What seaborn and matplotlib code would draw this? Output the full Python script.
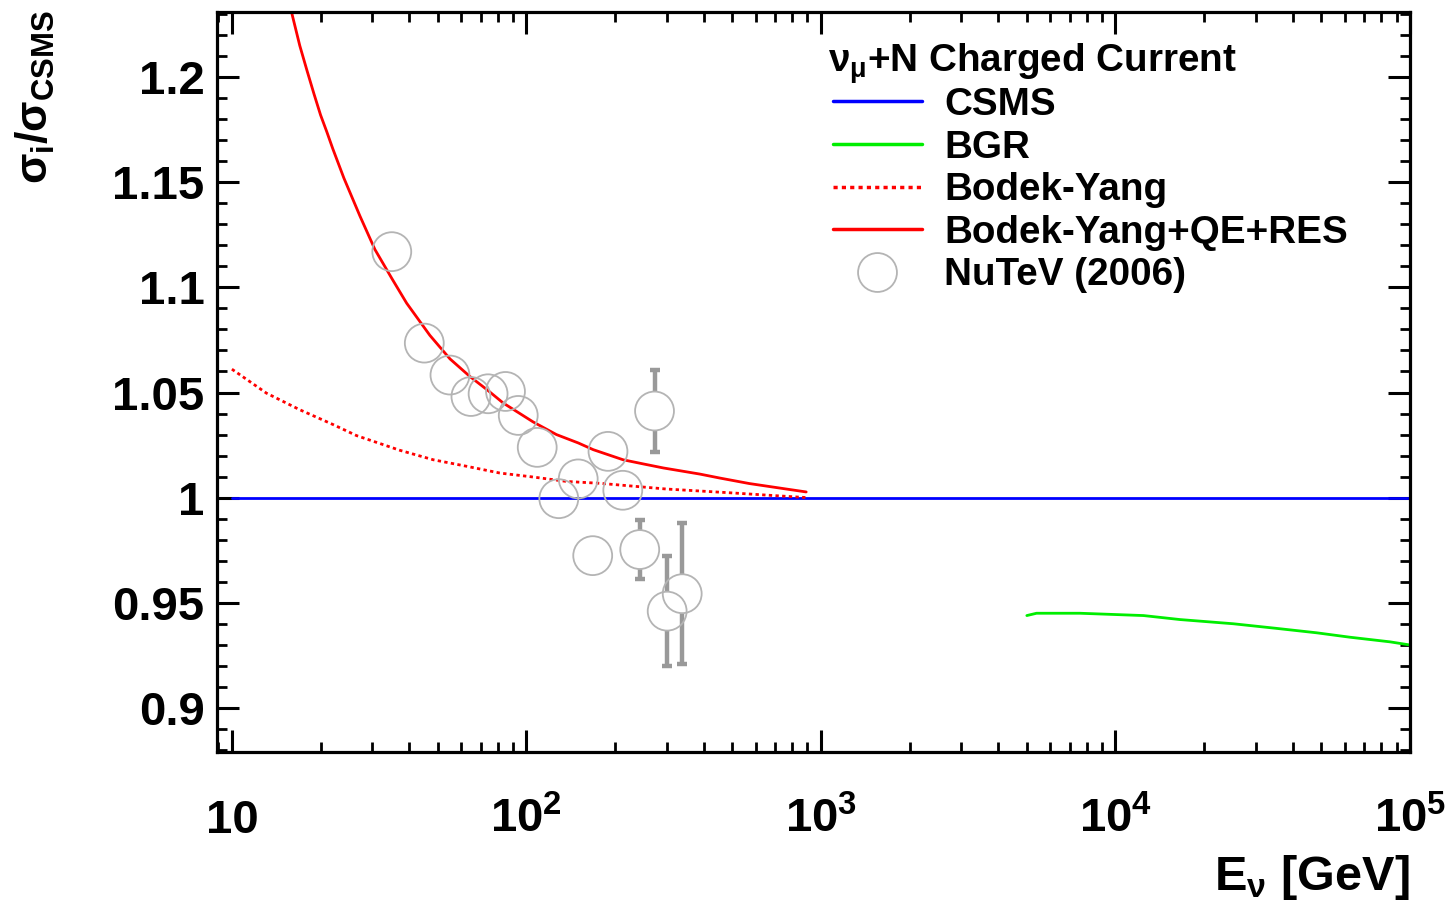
import numpy as np
import pandas as pd
import matplotlib
matplotlib.use("Agg")
import matplotlib.pyplot as plt
import seaborn as sns
from matplotlib.lines import Line2D
from matplotlib.ticker import FixedLocator, LogLocator, MultipleLocator, FixedFormatter, NullFormatter

# ---------------- data ----------------
csms_E = [10, 1e5]
csms_ratio = [1.0, 1.0]

bgr_E = [5000, 5395, 7573, 12450, 16560, 25120, 35250, 48200, 62500, 85500, 100000]
bgr_ratio = [0.9439, 0.9450, 0.9450, 0.9439, 0.9420, 0.9400, 0.9378, 0.9357, 0.9336, 0.9314, 0.9299]

by_E = [10, 13.1, 17.0, 22.1, 26.5, 37.2, 48.3, 62.7, 81.2, 105.4, 136.9, 178, 298, 505, 688, 900]
by_ratio = [1.0611, 1.0497, 1.0418, 1.0347, 1.0295, 1.0225, 1.018, 1.0149, 1.0117, 1.0098,
            1.0077, 1.0068, 1.0041, 1.0022, 1.0010, 1.0]

byqe_E = [16.0, 17, 18, 19, 20, 21, 22, 24, 27.2, 30.6, 35, 39.2, 47, 55, 64.3, 74, 83.4, 95,
          105.4, 126.4, 150, 168.7, 213, 250, 292, 388, 454, 571, 762, 891]
byqe_ratio = [1.230, 1.215, 1.203, 1.192, 1.182, 1.174, 1.166, 1.152, 1.134, 1.118, 1.104,
              1.0925, 1.0772, 1.066, 1.0576, 1.051, 1.045, 1.040, 1.036, 1.030, 1.026, 1.0228,
              1.018, 1.016, 1.0141, 1.0112, 1.0093, 1.0067, 1.0041, 1.0027]

nutev_E = [34.9, 45.0, 55.0, 64.8, 74.1, 84.9, 93.8, 108.8, 128.8, 149.9, 167.9, 189.2,
           212.4, 242.5, 272.2, 300.5, 338.0]
nutev_ratio = [1.117, 1.0735, 1.0583, 1.0481, 1.0494, 1.0505, 1.0391, 1.0239, 0.9995, 1.0089,
               0.9724, 1.022, 1.0035, 0.9753, 1.0412, 0.946, 0.9543]
nutev_err = [0.006, 0.006, 0.006, 0.006, 0.006, 0.006, 0.006, 0.006, 0.007, 0.007,
             0.008, 0.008, 0.008, 0.014, 0.0196, 0.026, 0.0335]

xtick_vals = [10, 100, 1000, 10000, 100000]
xtick_labels = ["10", r"$10^{2}$", r"$10^{3}$", r"$10^{4}$", r"$10^{5}$"]
ytick_vals = [0.9, 0.95, 1.0, 1.05, 1.1, 1.15, 1.2]
ytick_labels = ["0.9", "0.95", "1", "1.05", "1.1", "1.15", "1.2"]

legend_title = r"$\nu_{\mu}$+N Charged Current"
series_labels = ["CSMS", "BGR", "Bodek-Yang", "Bodek-Yang+QE+RES", "NuTeV (2006)"]

# ---------------- style ----------------
sns.set_theme(style="white")
plt.rcParams["font.family"] = ["Liberation Sans", "DejaVu Sans"]
plt.rcParams["font.weight"] = "bold"
plt.rcParams["text.color"] = "black"
plt.rcParams["axes.labelcolor"] = "black"
plt.rcParams["xtick.color"] = "black"
plt.rcParams["ytick.color"] = "black"
plt.rcParams["mathtext.fontset"] = "custom"
plt.rcParams["mathtext.rm"] = "Liberation Sans:bold"
plt.rcParams["mathtext.it"] = "Liberation Sans:bold"
plt.rcParams["mathtext.bf"] = "Liberation Sans:bold"
plt.rcParams["mathtext.sf"] = "Liberation Sans:bold"

DPI = 100
fig = plt.figure(figsize=(14.45, 9.0), dpi=DPI)
ax = fig.add_axes([217 / 1445, 1 - 752 / 900, (1410 - 217) / 1445, (752 - 12) / 900])
ax.set_facecolor("white")

ax.set_xscale("log")
ax.set_xlim(8.9, 1e5)
ax.set_ylim(0.879, 1.231)

# lines
sns.lineplot(x=csms_E, y=csms_ratio, ax=ax, color="#0000ff", lw=2.0, sort=False, estimator=None)
sns.lineplot(x=bgr_E, y=bgr_ratio, ax=ax, color="#00ee00", lw=2.0, sort=False, estimator=None)
sns.lineplot(x=by_E, y=by_ratio, ax=ax, color="#ff0000", lw=2.0, sort=False, estimator=None,
             linestyle=(0, (1.2, 1.2)))
sns.lineplot(x=byqe_E, y=byqe_ratio, ax=ax, color="#ff0000", lw=2.0, sort=False, estimator=None)

# NuTeV points: hollow circles
marker_pt = 28.0
sns.scatterplot(x=nutev_E, y=nutev_ratio, ax=ax, marker="o", s=marker_pt ** 2,
                facecolors="none", edgecolor="#b4b4b4", linewidth=1.3, zorder=4)

# error bars drawn outside the marker (gap = marker radius in data units)
fig.canvas.draw()
r_px = marker_pt / 2 * DPI / 72
err_color = "#999999"
for e, v, err in zip(nutev_E, nutev_ratio, nutev_err):
    px = ax.transData.transform((e, v))
    v_top_gap = ax.transData.inverted().transform((px[0], px[1] + r_px))[1]
    gap = v_top_gap - v
    if err > gap:
        ax.vlines([e, e], [v + gap, v - err], [v + err, v - gap], color=err_color, lw=3.2, zorder=3)
        ax.plot([e, e], [v + err, v - err], ls="none", marker="_", ms=7, mew=3.2,
                color=err_color, zorder=3)

# ---------------- axes styling ----------------
for s in ax.spines.values():
    s.set_visible(True)
    s.set_color("black")
    s.set_linewidth(2.3)

ax.xaxis.set_major_locator(FixedLocator(xtick_vals))
ax.xaxis.set_major_formatter(FixedFormatter(xtick_labels))
ax.xaxis.set_minor_locator(LogLocator(base=10, subs=np.arange(2, 10)))
ax.xaxis.set_minor_formatter(NullFormatter())
ax.yaxis.set_major_locator(FixedLocator(ytick_vals))
ax.yaxis.set_major_formatter(FixedFormatter(ytick_labels))
ax.yaxis.set_minor_locator(MultipleLocator(0.01))

ax.tick_params(axis="both", which="both", direction="in", top=True, right=True,
               bottom=True, left=True, color="black", labelcolor="black")
ax.tick_params(axis="both", which="major", length=15.5, width=2.2, labelsize=34)
ax.tick_params(axis="both", which="minor", length=7.5, width=2.0)
ax.tick_params(axis="y", which="major", pad=9)
ax.tick_params(axis="x", which="major", pad=58)
for t in ax.xaxis.get_major_ticks():
    t.label1.set_va("baseline")
for lab in ax.get_yticklabels() + ax.get_xticklabels():
    lab.set_fontweight("bold")

ax.set_xlabel("")
ax.set_ylabel("")
ax.grid(False)

# axis titles
fig.text(1410 / 1445, 1 - 890 / 900, r"E$_{\nu}$ [GeV]", ha="right", va="baseline",
         fontsize=35, fontweight="bold", color="black")
fig.text(35 / 1445, 1 - 10 / 900, r"$\sigma_{i}/\sigma_{CSMS}$", rotation=90,
         ha="center", va="top", fontsize=32, fontweight="bold", color="black")

# ---------------- legend ----------------
fig.text(828 / 1445, 1 - 72 / 900, legend_title, ha="left", va="baseline",
         fontsize=27.8, fontweight="bold", color="black")
handles = [
    Line2D([], [], color="#0000ff", lw=2.5),
    Line2D([], [], color="#00ee00", lw=2.5),
    Line2D([], [], color="#ff0000", lw=2.5, linestyle=(0, (1.2, 1.2))),
    Line2D([], [], color="#ff0000", lw=2.5),
    Line2D([], [], ls="none", marker="o", ms=marker_pt, mfc="none", mec="#b4b4b4", mew=1.3),
]
leg = ax.legend(handles, series_labels, loc="upper left",
                bbox_to_anchor=((833 - 217) / (1410 - 217), (752 - 87) / (752 - 12)),
                frameon=False, fontsize=27.8,
                handlelength=2.3, handletextpad=0.58,
                labelspacing=0.17, borderpad=0, borderaxespad=0)
for txt in leg.get_texts():
    txt.set_fontweight("bold")
    txt.set_color("black")

fig.savefig("out.png", dpi=DPI, facecolor="white")
